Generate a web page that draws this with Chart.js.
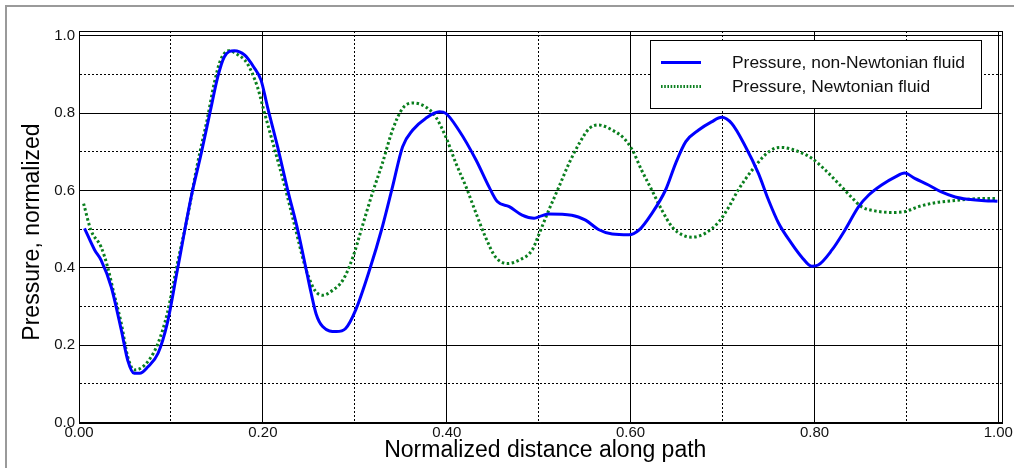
<!DOCTYPE html>
<html>
<head>
<meta charset="utf-8">
<script src="https://cdn.jsdelivr.net/npm/chart.js@4/dist/chart.umd.min.js"></script>
<style>
  html, body { margin: 0; padding: 0; background: #fff; }
  #wrap { width: 1014px; height: 468px; }
</style>
</head>
<body>
<div id="wrap"><canvas id="c" width="1014" height="468"></canvas></div>
<script>
// Normalized distance along the path (x) and normalized pressure (y)
const nonNewtonX = [0.006, 0.017, 0.024, 0.035, 0.046, 0.053, 0.060, 0.066, 0.075, 0.086,
  0.096, 0.107, 0.122, 0.133, 0.143, 0.151, 0.158, 0.169, 0.180, 0.190,
  0.198, 0.205, 0.216, 0.227, 0.238, 0.248, 0.252, 0.258, 0.265, 0.280,
  0.290, 0.301, 0.316, 0.330, 0.341, 0.352, 0.363, 0.377, 0.392, 0.399,
  0.413, 0.432, 0.446, 0.455, 0.468, 0.482, 0.495, 0.503, 0.511, 0.536,
  0.551, 0.565, 0.580, 0.598, 0.609, 0.623, 0.638, 0.649, 0.660, 0.674,
  0.688, 0.699, 0.710, 0.725, 0.739, 0.750, 0.761, 0.775, 0.786, 0.797,
  0.804, 0.819, 0.833, 0.848, 0.859, 0.873, 0.888, 0.898, 0.909, 0.924,
  0.938, 0.953, 0.967, 0.985, 0.999];
const nonNewtonY = [0.502, 0.446, 0.420, 0.351, 0.239, 0.161, 0.127, 0.127, 0.144, 0.179,
  0.256, 0.394, 0.583, 0.696, 0.807, 0.894, 0.945, 0.961, 0.950, 0.919,
  0.885, 0.816, 0.713, 0.601, 0.497, 0.385, 0.340, 0.280, 0.248, 0.235,
  0.243, 0.291, 0.394, 0.506, 0.609, 0.713, 0.756, 0.786, 0.803, 0.799,
  0.756, 0.678, 0.609, 0.571, 0.558, 0.536, 0.528, 0.534, 0.539, 0.536,
  0.523, 0.499, 0.487, 0.485, 0.497, 0.540, 0.601, 0.670, 0.726, 0.756,
  0.777, 0.789, 0.773, 0.713, 0.644, 0.575, 0.515, 0.463, 0.428, 0.404,
  0.407, 0.446, 0.497, 0.558, 0.588, 0.614, 0.635, 0.645, 0.631, 0.614,
  0.596, 0.583, 0.577, 0.573, 0.572];

const newtonX = [0.005, 0.013, 0.024, 0.031, 0.038, 0.046, 0.053, 0.060, 0.067, 0.076,
  0.086, 0.096, 0.107, 0.118, 0.129, 0.140, 0.147, 0.154, 0.163, 0.172,
  0.183, 0.194, 0.201, 0.212, 0.223, 0.234, 0.245, 0.250, 0.257, 0.265,
  0.276, 0.287, 0.298, 0.308, 0.319, 0.330, 0.341, 0.352, 0.363, 0.377,
  0.388, 0.399, 0.410, 0.421, 0.432, 0.442, 0.453, 0.466, 0.479, 0.493,
  0.500, 0.511, 0.522, 0.533, 0.544, 0.555, 0.565, 0.580, 0.593, 0.602,
  0.612, 0.623, 0.634, 0.645, 0.656, 0.667, 0.681, 0.696, 0.707, 0.717,
  0.732, 0.746, 0.757, 0.764, 0.783, 0.797, 0.812, 0.826, 0.840, 0.851,
  0.866, 0.884, 0.898, 0.913, 0.931, 0.949, 0.967, 0.985, 0.999];
const newtonY = [0.566, 0.497, 0.454, 0.403, 0.334, 0.256, 0.170, 0.136, 0.140, 0.161,
  0.205, 0.282, 0.411, 0.532, 0.670, 0.790, 0.876, 0.937, 0.961, 0.952,
  0.928, 0.868, 0.807, 0.713, 0.618, 0.515, 0.411, 0.375, 0.340, 0.329,
  0.342, 0.368, 0.428, 0.506, 0.592, 0.670, 0.756, 0.812, 0.826, 0.816,
  0.790, 0.738, 0.670, 0.609, 0.540, 0.480, 0.428, 0.411, 0.420, 0.446,
  0.485, 0.549, 0.609, 0.670, 0.721, 0.760, 0.769, 0.756, 0.734, 0.704,
  0.652, 0.601, 0.549, 0.506, 0.485, 0.479, 0.489, 0.519, 0.558, 0.601,
  0.652, 0.691, 0.709, 0.711, 0.700, 0.683, 0.652, 0.618, 0.583, 0.558,
  0.547, 0.543, 0.545, 0.558, 0.568, 0.573, 0.577, 0.579, 0.579];

const seriesLabels = ['Pressure, non-Newtonian fluid', 'Pressure, Newtonian fluid'];
const xTitle = 'Normalized distance along path';
const yTitle = 'Pressure, normalized';

const FONT = '"Liberation Sans", Arial, Helvetica, sans-serif';

function pts(xs, ys) { return xs.map((x, i) => ({ x: x, y: ys[i] })); }

// minor (odd tenths) grid lines are dotted, major ones solid
function isMinor(v) { return Math.round(v * 10) % 2 !== 0; }
function gridDash(ctx) {
  if (!ctx.tick) return [];
  return isMinor(ctx.tick.value) ? [2, 2] : [];
}

const decorations = {
  id: 'decorations',
  beforeDraw(chart) {
    const c = chart.ctx;
    c.save();
    c.fillStyle = '#fff';
    c.fillRect(0, 0, chart.width, chart.height);
    // figure frame
    c.strokeStyle = '#9a9a9a';
    c.lineWidth = 2;
    c.strokeRect(6, 6, chart.width + 20, chart.height + 20);
    c.restore();
  },
  afterDraw(chart) {
    const c = chart.ctx;
    const a = chart.chartArea;
    c.save();
    // plot box
    c.strokeStyle = '#000';
    c.lineWidth = 1;
    c.strokeRect(Math.round(a.left) + 0.5, Math.round(a.top) + 0.5,
      Math.round(a.right - a.left), Math.round(a.bottom - a.top));

    // axis titles
    c.fillStyle = '#000';
    c.font = '23px ' + FONT;
    c.textAlign = 'center';
    c.textBaseline = 'alphabetic';
    c.fillText(xTitle, (a.left + a.right) / 2 + 5, 457);
    c.save();
    c.translate(38.5, 232);
    c.rotate(-Math.PI / 2);
    c.fillText(yTitle, 0, 0);
    c.restore();

    // legend
    const bx = 650.5, by = 40.5, bw = 331, bh = 68;
    c.fillStyle = '#fff';
    c.fillRect(bx, by, bw, bh);
    c.strokeStyle = '#000';
    c.lineWidth = 1;
    c.strokeRect(bx, by, bw, bh);
    const rows = [62.5, 86.5];
    chart.data.datasets.forEach((ds, i) => {
      c.beginPath();
      c.strokeStyle = ds.borderColor;
      c.lineWidth = ds.borderWidth;
      c.setLineDash(i === 0 ? [] : [1.6, 1.6]);
      c.lineCap = 'butt';
      c.moveTo(661, rows[i]);
      c.lineTo(701, rows[i]);
      c.stroke();
      c.setLineDash([]);
      c.fillStyle = '#111';
      c.font = '17.4px ' + FONT;
      c.textAlign = 'left';
      c.textBaseline = 'middle';
      c.fillText(ds.label, 732, rows[i] + 0.5);
    });
    c.restore();
  }
};

new Chart(document.getElementById('c'), {
  type: 'scatter',
  data: {
    datasets: [
      {
        label: seriesLabels[0],
        data: pts(nonNewtonX, nonNewtonY),
        showLine: true,
        borderColor: '#0000ff',
        borderWidth: 3,
        pointRadius: 0,
        cubicInterpolationMode: 'monotone',
        fill: false
      },
      {
        label: seriesLabels[1],
        data: pts(newtonX, newtonY),
        showLine: true,
        borderColor: '#0a7f1e',
        borderWidth: 3,
        borderDash: [2.5, 2.5],
        borderCapStyle: 'butt',
        pointRadius: 0,
        cubicInterpolationMode: 'monotone',
        fill: false
      }
    ]
  },
  options: {
    responsive: false,
    animation: false,
    layout: { padding: { left: 0, right: 11, top: 31, bottom: 0 } },
    plugins: { legend: { display: false }, tooltip: { enabled: false } },
    scales: {
      x: {
        type: 'linear',
        min: 0,
        max: 1.0035,
        afterFit(scale) { scale.height = 45.5; },
        ticks: {
          stepSize: 0.1,
          includeBounds: false,
          autoSkip: false,
          maxRotation: 0,
          padding: 1,
          color: '#111',
          font: { family: FONT, size: 15 },
          callback: (v) => isMinor(v) ? '' : v.toFixed(2)
        },
        grid: { color: '#000', lineWidth: 1, drawTicks: false },
        border: { display: true, color: '#000', width: 1, dash: gridDash }
      },
      y: {
        type: 'linear',
        min: 0,
        max: 1.012,
        afterFit(scale) { scale.width = 79; },
        ticks: {
          stepSize: 0.1,
          includeBounds: false,
          autoSkip: false,
          padding: 4,
          color: '#111',
          font: { family: FONT, size: 15 },
          callback: (v) => isMinor(v) ? '' : v.toFixed(1)
        },
        grid: { color: '#000', lineWidth: 1, drawTicks: false },
        border: { display: true, color: '#000', width: 1, dash: gridDash }
      }
    }
  },
  plugins: [decorations]
});
</script>
</body>
</html>
